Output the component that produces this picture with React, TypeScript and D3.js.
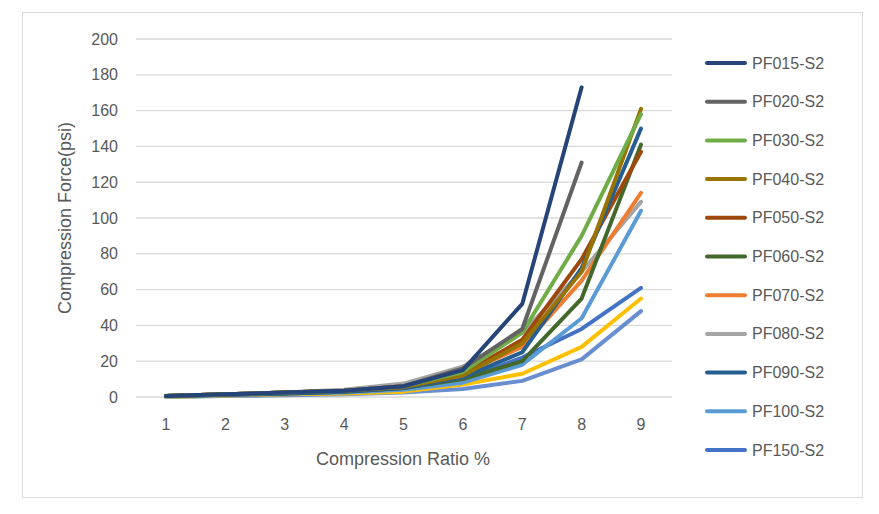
import React from "react";
import * as d3 from "d3";

const xCats = [1, 2, 3, 4, 5, 6, 7, 8, 9];
const yTicks = [0, 20, 40, 60, 80, 100, 120, 140, 160, 180, 200];
const names = ["PF015-S2","PF020-S2","PF030-S2","PF040-S2","PF050-S2","PF060-S2","PF070-S2","PF080-S2","PF090-S2","PF100-S2","PF150-S2","PF200-S2","PF250-S2"];
const colors = ["#264478","#636363","#70ad47","#997300","#9e480e","#43682b","#ed7d31","#a5a5a5","#255e91","#5b9bd5","#4472c4","#ffc000","#698ed0"];
const s015 = [0.5, 1.5, 2.5, 3.5, 6, 15, 52, 173];
const s020 = [0.5, 1.5, 2.5, 3.5, 6, 16, 38, 131];
const s030 = [0.5, 1.5, 2.5, 3.5, 6, 14, 36, 90, 158];
const s040 = [0.5, 1.5, 2.5, 3.5, 5.5, 12, 30, 70, 161];
const s050 = [0.5, 1.5, 2.5, 3.5, 6, 13, 32, 77, 137];
const s060 = [0.5, 1.2, 2, 3, 5, 10, 20, 55, 141];
const s070 = [0.5, 1.5, 2.5, 3.5, 6, 13, 28, 65, 114];
const s080 = [0.5, 1.5, 2.5, 4, 7.5, 17, 36, 70, 109];
const s090 = [0.5, 1.2, 2, 3, 5, 11, 25, 72, 150];
const s100 = [0.3, 1, 1.8, 2.5, 4, 8, 18, 44, 104];
const s150 = [0.5, 1.5, 2.5, 3.5, 5, 10, 22, 38, 61];
const s200 = [0.2, 0.8, 1.5, 2, 3, 7, 13, 28, 55];
const s250 = [0, 0.5, 1, 1.5, 2.5, 4.5, 9, 21, 48];
const series = [s015, s020, s030, s040, s050, s060, s070, s080, s090, s100, s150, s200, s250];
const drawOrder = [12, 11, 10, 9, 7, 6, 5, 4, 8, 3, 2, 1, 0];

export default function App() {
  const x = d3.scaleLinear().domain([1, 9]).range([166, 641]);
  const y = d3.scaleLinear().domain([0, 200]).range([397, 39]);
  const line = d3.line<number>().x((_, i) => x(xCats[i])).y((d) => y(d));
  const font = "'Liberation Sans', Arial, sans-serif";
  return (
    <svg width={879} height={514} style={{ position: "absolute", left: 0, top: 0 }} fontFamily={font}>
      <rect x={0} y={0} width={879} height={514} fill="#fff" />
      <rect x={22.5} y={12.5} width={840} height={485} fill="none" stroke="#d9d9d9" />
      {yTicks.map((t) => (
        <g key={t}>
          <line x1={136} x2={672} y1={y(t)} y2={y(t)} stroke="#d9d9d9" strokeWidth={1.3} />
          <text x={118} y={y(t) + 5.5} textAnchor="end" fontSize={16} fill="#595959">{t}</text>
        </g>
      ))}
      {xCats.map((c) => (
        <text key={c} x={x(c)} y={430} textAnchor="middle" fontSize={16} fill="#595959">{c}</text>
      ))}
      <text x={403} y={465} textAnchor="middle" fontSize={18} fill="#595959">Compression Ratio %</text>
      <text transform={`translate(71,${y(100)}) rotate(-90)`} textAnchor="middle" fontSize={18} fill="#595959">Compression Force(psi)</text>
      {drawOrder.map((i) => (
        <path key={i} d={line(series[i]) || ""} fill="none" stroke={colors[i]} strokeWidth={4} strokeLinejoin="round" strokeLinecap="round" />
      ))}
      {names.slice(0, 11).map((n, i) => (
        <g key={n}>
          <line x1={707} x2={745} y1={63 + i * 38.7} y2={63 + i * 38.7} stroke={colors[i]} strokeWidth={4} strokeLinecap="round" />
          <text x={752} y={63 + i * 38.7 + 5.5} fontSize={16} fill="#595959">{n}</text>
        </g>
      ))}
    </svg>
  );
}
